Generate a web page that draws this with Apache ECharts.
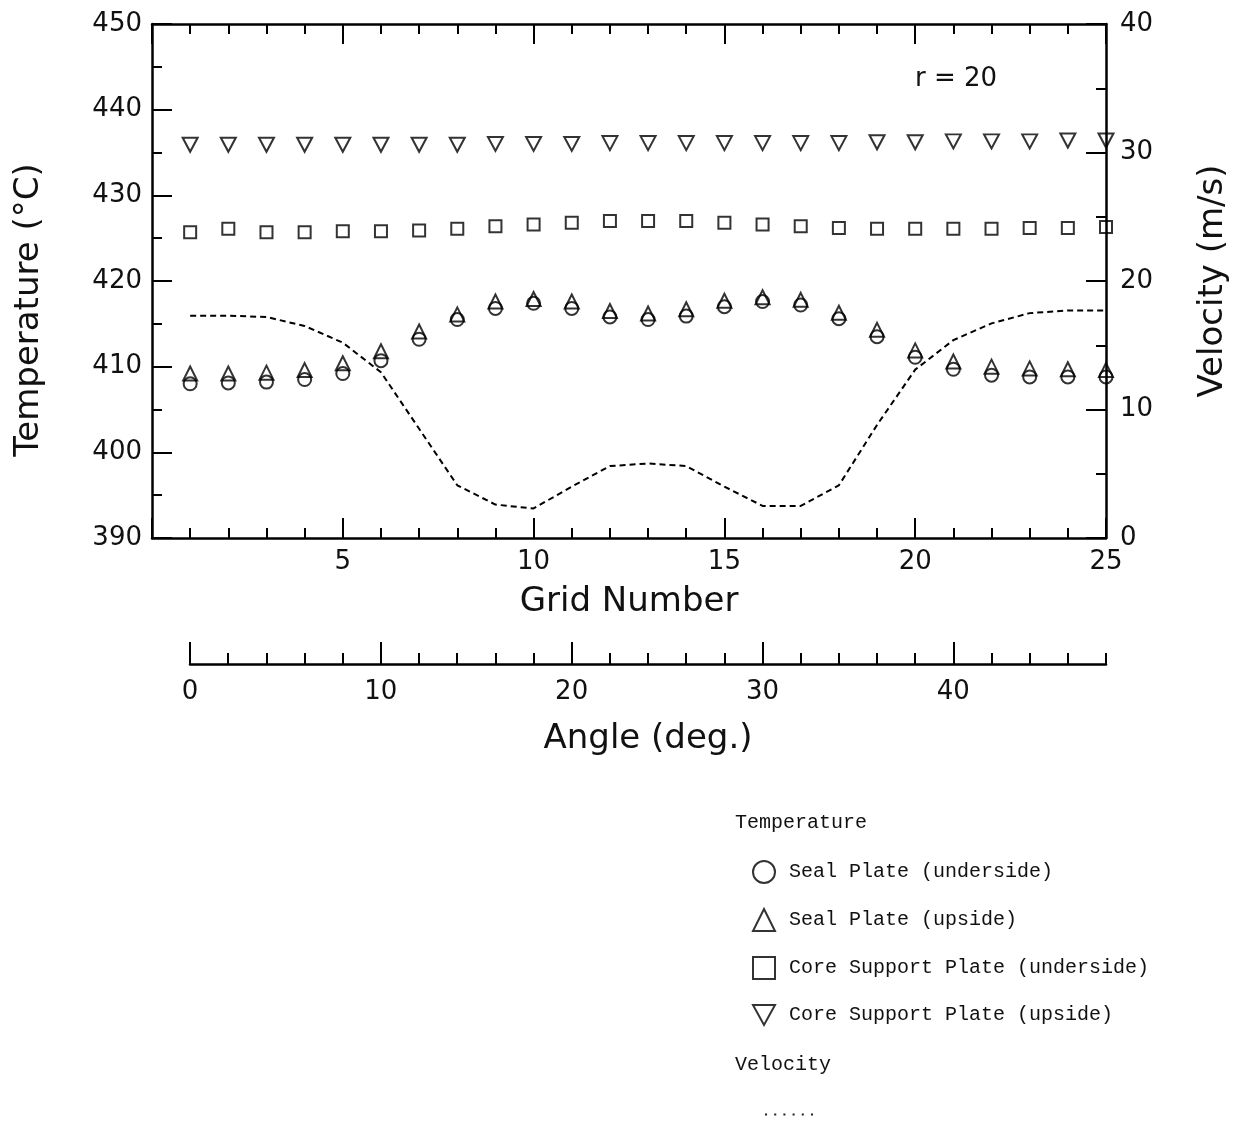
<!DOCTYPE html>
<html><head><meta charset="utf-8">
<script src="https://cdn.jsdelivr.net/npm/echarts@6/dist/echarts.min.js"></script>
<style>html,body{margin:0;padding:0;background:#fff}#c{width:1242px;height:1122px}</style>
</head><body><div id="c"></div>
<script>
// ---- data ----
const gridNumbers = [1,2,3,4,5,6,7,8,9,10,11,12,13,14,15,16,17,18,19,20,21,22,23,24,25];
const sealUnder = [408.0,408.1,408.2,408.5,409.2,410.7,413.2,415.5,416.8,417.4,416.8,415.8,415.5,415.9,417.0,417.6,417.2,415.6,413.5,411.1,409.7,409.0,408.8,408.8,408.8];
const sealUp    = [409.2,409.2,409.3,409.6,410.4,411.8,414.1,416.1,417.6,417.9,417.6,416.5,416.2,416.7,417.7,418.1,417.8,416.3,414.3,411.9,410.6,410.0,409.8,409.7,409.6];
const coreUnder = [425.7,426.1,425.7,425.7,425.8,425.8,425.9,426.1,426.4,426.6,426.8,427.0,427.0,427.0,426.8,426.6,426.4,426.2,426.1,426.1,426.1,426.1,426.2,426.2,426.3];
const coreUp    = [435.9,435.9,435.9,435.9,435.9,435.9,435.9,435.9,436.0,436.0,436.0,436.1,436.1,436.1,436.1,436.1,436.1,436.1,436.2,436.2,436.3,436.3,436.3,436.4,436.4];
const velocity  = [17.3,17.3,17.2,16.5,15.2,12.9,8.5,4.1,2.6,2.3,4.0,5.6,5.8,5.6,4.0,2.5,2.5,4.1,8.8,13.1,15.4,16.7,17.5,17.7,17.7];
const angleMajorTicks = [0,10,20,30,40];
const seriesNames = ['Seal Plate (underside)','Seal Plate (upside)','Core Support Plate (underside)','Core Support Plate (upside)'];

const pairs = (ys) => gridNumbers.map((g, i) => [g, ys[i]]);

const chart = echarts.init(document.getElementById('c'), null, {renderer: 'canvas'});
const F = 'DejaVu Sans';
const LM = 'Liberation Mono';
const lineS = {color: '#000', width: 2.5};
const tickS = {color: '#000', width: 2};
const labelS = {fontFamily: F, fontSize: 26, color: '#111'};
const nameS = {fontFamily: F, fontSize: 34, color: '#111'};
const hollow = {color: 'rgba(255,255,255,0)', borderColor: '#000', borderWidth: 2};
const downTri = 'path://M0,0 L10,0 L5,9 Z';
const dotsIcon = 'path://M0,0h2v2h-2z M9,0h2v2h-2z M18,0h2v2h-2z M27,0h2v2h-2z M36,0h2v2h-2z M45,0h2v2h-2z';

const option = {
  animation: false,
  backgroundColor: '#fff',
  grid: [
    {left: 152, top: 24, width: 954, height: 514},
    {left: 190, top: 600, width: 916, height: 64}
  ],
  xAxis: [
    {gridIndex: 0, type: 'value', min: 0, max: 25, interval: 5, position: 'bottom',
     axisLine: {show: true, onZero: false, lineStyle: lineS},
     axisTick: {show: true, inside: true, length: 20, lineStyle: tickS},
     minorTick: {show: true, splitNumber: 5, length: 10, lineStyle: tickS},
     splitLine: {show: false},
     axisLabel: Object.assign({margin: 11, formatter: v => v === 0 ? '' : String(v)}, labelS),
     name: 'Grid Number', nameLocation: 'middle', nameGap: 47, nameTextStyle: nameS},
    {gridIndex: 0, type: 'value', min: 0, max: 25, interval: 5, position: 'top',
     axisLine: {show: true, onZero: false, lineStyle: lineS},
     axisTick: {show: true, inside: true, length: 20, lineStyle: tickS},
     minorTick: {show: true, splitNumber: 5, length: 10, lineStyle: tickS},
     splitLine: {show: false}, axisLabel: {show: false}},
    {gridIndex: 1, type: 'value', min: 0, max: 48, interval: 2, position: 'bottom',
     axisLine: {show: true, onZero: false, lineStyle: lineS},
     axisTick: {show: true, inside: true, length: 11, lineStyle: tickS},
     splitLine: {show: false}, axisLabel: {show: false}},
    {gridIndex: 1, type: 'value', min: 0, max: 48, position: 'bottom',
     axisLine: {show: false, onZero: false},
     axisTick: {show: true, inside: true, length: 22, lineStyle: tickS, customValues: angleMajorTicks},
     splitLine: {show: false},
     axisLabel: Object.assign({margin: 15, customValues: angleMajorTicks}, labelS),
     name: 'Angle (deg.)', nameLocation: 'middle', nameGap: 58, nameTextStyle: nameS}
  ],
  yAxis: [
    {gridIndex: 0, type: 'value', min: 390, max: 450, interval: 10, position: 'left',
     axisLine: {show: true, onZero: false, lineStyle: lineS},
     axisTick: {show: true, inside: true, length: 20, lineStyle: tickS},
     minorTick: {show: true, splitNumber: 2, length: 10, lineStyle: tickS},
     splitLine: {show: false},
     axisLabel: Object.assign({margin: 10}, labelS),
     name: 'Temperature (°C)', nameLocation: 'middle', nameGap: 106,
     nameTextStyle: Object.assign({padding: [0, 58, 0, 0]}, nameS)},
    {gridIndex: 0, type: 'value', min: 0, max: 40, interval: 10, position: 'right',
     axisLine: {show: true, onZero: false, lineStyle: lineS},
     axisTick: {show: true, inside: true, length: 20, lineStyle: tickS},
     minorTick: {show: true, splitNumber: 2, length: 10, lineStyle: tickS},
     splitLine: {show: false},
     axisLabel: Object.assign({margin: 14}, labelS),
     name: 'Velocity (m/s)', nameLocation: 'middle', nameGap: 90, nameTextStyle: nameS},
    {gridIndex: 1, type: 'value', min: 0, max: 1, show: false}
  ],
  legend: [
    {data: seriesNames, orient: 'vertical', left: 747, top: 855, itemWidth: 22, itemHeight: 22, itemGap: 24,
     selectedMode: false, textStyle: {fontFamily: LM, fontSize: 20, color: '#111', padding: [0, 0, 0, 9], lineHeight: 22}},
    {data: [{name: 'Velocity', icon: dotsIcon}], orient: 'vertical', left: 760, top: 1108, itemWidth: 48, itemHeight: 3,
     selectedMode: false, formatter: () => '',
     itemStyle: {color: '#222', borderWidth: 0}}
  ],
  graphic: [
    {type: 'text', left: 915, top: 66, style: {text: 'r = 20', font: '26px "DejaVu Sans"', fill: '#111'}},
    {type: 'text', left: 735, top: 813, style: {text: 'Temperature', font: '20px "Liberation Mono"', fill: '#111'}},
    {type: 'text', left: 735, top: 1055, style: {text: 'Velocity', font: '20px "Liberation Mono"', fill: '#111'}}
  ],
  series: [
    {name: seriesNames[0], type: 'scatter', xAxisIndex: 0, yAxisIndex: 0, symbol: 'circle', symbolSize: 13,
     itemStyle: hollow, data: pairs(sealUnder)},
    {name: seriesNames[1], type: 'scatter', xAxisIndex: 0, yAxisIndex: 0, symbol: 'triangle', symbolSize: 14,
     itemStyle: hollow, data: pairs(sealUp)},
    {name: seriesNames[2], type: 'scatter', xAxisIndex: 0, yAxisIndex: 0, symbol: 'rect', symbolSize: 12,
     itemStyle: hollow, data: pairs(coreUnder)},
    {name: seriesNames[3], type: 'scatter', xAxisIndex: 0, yAxisIndex: 0, symbol: downTri, symbolSize: [15, 14],
     itemStyle: hollow, data: pairs(coreUp)},
    {name: 'Velocity', type: 'line', xAxisIndex: 0, yAxisIndex: 1, symbol: 'none', smooth: false,
     itemStyle: {color: '#000'},
     lineStyle: {color: '#000', width: 2, type: [6, 4]}, data: pairs(velocity)}
  ]
};
chart.setOption(option);
</script></body></html>
